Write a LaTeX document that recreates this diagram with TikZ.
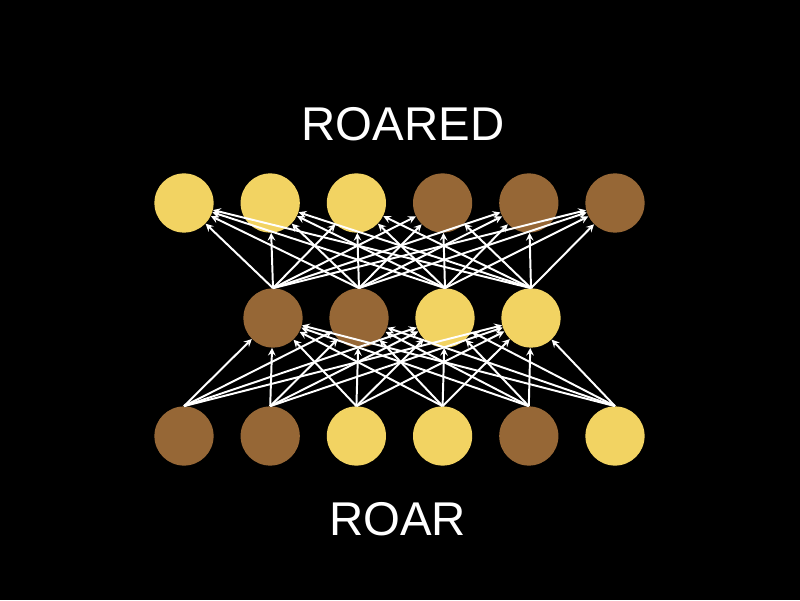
\documentclass[tikz,border=0pt]{standalone}
\usepackage{fontspec}
\setmainfont{Liberation Sans}
\usepackage{tikz}
\usepackage{xcolor}
\usetikzlibrary{arrows}
\usetikzlibrary{backgrounds}

\definecolor{roaryellow}{RGB}{242,211,98}
\definecolor{roarbrown}{RGB}{150,103,54}

\tikzset{
  unit/.style={circle, minimum size=1.48cm, inner sep=0pt},
  link/.style={->, white, line width=1.4pt},
  word/.style={white, anchor=base, font=\fontsize{33.7}{40}\selectfont}
}

\begin{document}
\begin{tikzpicture}[>=stealth]

  \fill[black] (0,0) rectangle (20,15);
  \useasboundingbox (0,0) rectangle (20,15);

  \node[word] (output) at (10.075, 11.475) {ROARED};
  \node[word] (input) at (9.94, 1.625) {ROAR};

%%%%%%%%%%%% Top layer
  \foreach \c [count=\i] in {roaryellow,roaryellow,roaryellow,roarbrown,roarbrown,roarbrown} {
    \node[unit, fill=\c] (t\i) at ({4.6+(\i-1)*2.155}, 9.925) {};
  }

%%%%%%%%%%%% Hidden layer
  \foreach \c [count=\i] in {roarbrown,roarbrown,roaryellow,roaryellow} {
    \node[unit, fill=\c] (m\i) at ({6.825+(\i-1)*2.15}, 7.05) {};
  }

%%%%%%%%%%%% Bottom layer
  \foreach \c [count=\i] in {roarbrown,roarbrown,roaryellow,roaryellow,roarbrown,roaryellow} {
    \node[unit, fill=\c] (b\i) at ({4.6+(\i-1)*2.155}, 4.1) {};
  }

  \foreach \i in {1,...,6} {
    \foreach \j in {1,...,4} {
      \draw[link] (b\i.north) -- (m\j);
      \draw[link] (m\j.north) -- (t\i);
    }
  }
\end{tikzpicture}
\end{document}
